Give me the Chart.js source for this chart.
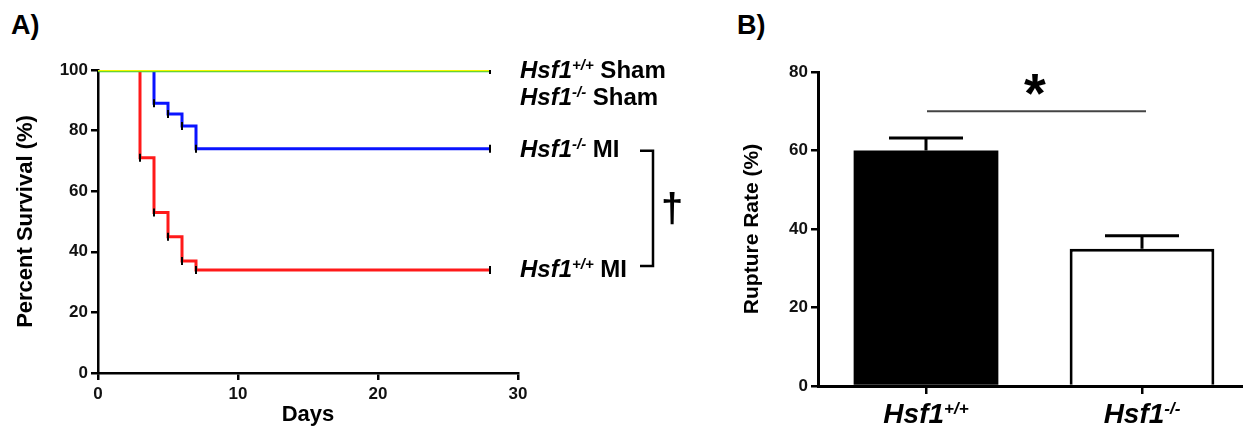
<!DOCTYPE html>
<html>
<head>
<meta charset="utf-8">
<script src="https://cdn.jsdelivr.net/npm/chart.js@4"></script>
<style>
  body { margin: 0; width: 1243px; height: 430px; overflow: hidden; background: #fff; position: relative; font-family: "Liberation Sans", Arial, sans-serif; }
  .panel { position: absolute; top: 0; height: 430px; }
  .tag { position: absolute; font-weight: bold; font-size: 27px; color: #000; }
</style>
</head>
<body>
<div class="tag" style="left:11px;top:10px;">A)</div>
<div class="tag" style="left:737px;top:10px;">B)</div>
<div class="panel" style="left:0;width:700px;"><canvas id="survChart"></canvas></div>
<div class="panel" style="left:700px;width:550px;"><canvas id="ruptureChart"></canvas></div>
<script>
// Panel A - Kaplan-Meier survival (days, percent)
const wtShamDays = [0, 28];
const wtShamSurv = [100, 100];
const koShamDays = [0, 28];
const koShamSurv = [100, 100];
const koMiDays = [0, 4, 5, 6, 7, 28];
const koMiSurv = [100, 89, 85.5, 81.5, 74, 74];
const wtMiDays = [0, 3, 4, 5, 6, 7, 28];
const wtMiSurv = [100, 71, 53, 45, 37, 34, 34];
const dayTicks = [0, 10, 20, 30];
const survTicks = [0, 20, 40, 60, 80, 100];

// Panel B - rupture rate
const groups = ['Hsf1+/+', 'Hsf1-/-'];
const ruptureRate = [60, 35];
const ruptureSem = [3.2, 3.3];
const rateTicks = [0, 20, 40, 60, 80];

const FONT = '"Liberation Sans", Arial, sans-serif';
Chart.defaults.font.family = FONT;
Chart.defaults.color = '#000';

function toXY(xs, ys) {
  return xs.map((x, i) => ({x: x, y: ys[i]}));
}

// draw text made of parts (italic / superscript)
function richFont(p, size) {
  const fs = p.sup ? Math.round(size * 0.62) : size;
  return (p.italic ? 'italic ' : '') + 'bold ' + fs + 'px ' + FONT;
}
function richWidth(ctx, parts, size) {
  let w = 0;
  parts.forEach(p => { ctx.font = richFont(p, size); w += ctx.measureText(p.t).width; });
  return w;
}
function drawRich(ctx, x, y, parts, size) {
  let cx = x;
  ctx.textBaseline = 'alphabetic';
  ctx.textAlign = 'left';
  parts.forEach(p => {
    ctx.font = richFont(p, size);
    ctx.fillText(p.t, cx, y - (p.sup ? size * 0.32 : 0));
    cx += ctx.measureText(p.t).width;
  });
}
function geneParts(label) {
  // 'Hsf1+/+' -> Hsf1 with superscript genotype
  return [{t: label.slice(0, 4), italic: true}, {t: label.slice(4), italic: true, sup: true}];
}

function survLine(label, xs, ys, color, width) {
  return {
    label: label,
    data: toXY(xs, ys),
    borderColor: color,
    borderWidth: width,
    stepped: true,
    pointStyle: 'line',
    rotation: 90,
    pointRadius: c => c.dataIndex === 0 ? 0 : 4,
    pointBorderColor: '#000',
    pointBorderWidth: 2,
    pointBackgroundColor: '#000'
  };
}

const survLabels = {
  id: 'survLabels',
  afterDatasetsDraw(chart) {
    const ctx = chart.ctx;
    const y = chart.scales.y;
    const x0 = 520;
    ctx.save();
    ctx.fillStyle = '#000';
    const ySham = y.getPixelForValue(wtShamSurv[wtShamSurv.length - 1]);
    const yKo = y.getPixelForValue(koMiSurv[koMiSurv.length - 1]);
    const yWt = y.getPixelForValue(wtMiSurv[wtMiSurv.length - 1]);
    drawRich(ctx, x0, ySham + 8, geneParts('Hsf1+/+').concat([{t: ' Sham'}]), 24);
    drawRich(ctx, x0, ySham + 35, geneParts('Hsf1-/-').concat([{t: ' Sham'}]), 24);
    drawRich(ctx, x0, yKo + 8, geneParts('Hsf1-/-').concat([{t: ' MI'}]), 24);
    drawRich(ctx, x0, yWt + 7, geneParts('Hsf1+/+').concat([{t: ' MI'}]), 24);
    // bracket + dagger
    ctx.strokeStyle = '#000';
    ctx.lineWidth = 2.5;
    ctx.beginPath();
    ctx.moveTo(640, yKo + 2);
    ctx.lineTo(653, yKo + 2);
    ctx.lineTo(653, yWt - 4);
    ctx.lineTo(640, yWt - 4);
    ctx.stroke();
    ctx.font = 'bold 40px ' + FONT;
    ctx.textAlign = 'center';
    ctx.textBaseline = 'middle';
    ctx.fillText('\u2020', 672, (yKo + yWt) / 2 + 2);
    ctx.restore();
  }
};

new Chart(document.getElementById('survChart'), {
  type: 'line',
  data: {
    // first dataset is drawn on top
    datasets: [
      survLine('Hsf1+/+ Sham', wtShamDays, wtShamSurv, '#f5f500', 2.5),
      survLine('Hsf1-/- Sham', koShamDays, koShamSurv, '#3cc83c', 4.5),
      survLine('Hsf1+/+ MI', wtMiDays, wtMiSurv, '#ff1a1a', 3),
      survLine('Hsf1-/- MI', koMiDays, koMiSurv, '#0a14ff', 3)
    ]
  },
  options: {
    responsive: true,
    maintainAspectRatio: false,
    animation: false,
    layout: { padding: { left: 0, top: 70, right: 182, bottom: 0 } },
    plugins: { legend: { display: false }, tooltip: { enabled: false } },
    scales: {
      x: {
        type: 'linear',
        min: 0, max: 30,
        afterBuildTicks: s => { s.ticks = dayTicks.map(v => ({value: v})); },
        afterFit: s => { s.height = 57; },
        border: { color: '#000', width: 2.5 },
        grid: { drawOnChartArea: false, drawTicks: true, tickLength: 7, color: '#000', lineWidth: 2.5 },
        ticks: { font: { size: 17, weight: 'bold' }, padding: 4, color: '#111' },
        title: { display: true, text: 'Days', font: { size: 22, weight: 'bold' }, padding: { top: 0, bottom: 2 } }
      },
      y: {
        min: 0, max: 100,
        afterBuildTicks: s => { s.ticks = survTicks.map(v => ({value: v})); },
        afterFit: s => { s.width = 98; },
        border: { color: '#000', width: 2.5 },
        grid: { drawOnChartArea: false, drawTicks: true, tickLength: 7, color: '#000', lineWidth: 2.5 },
        ticks: { font: { size: 17, weight: 'bold' }, padding: 3, color: '#111' },
        title: { display: true, text: 'Percent Survival (%)', font: { size: 22, weight: 'bold' }, padding: { top: 13, bottom: 0 } }
      }
    }
  },
  plugins: [survLabels]
});

const ruptureExtras = {
  id: 'ruptureExtras',
  afterDatasetsDraw(chart) {
    const ctx = chart.ctx;
    const y = chart.scales.y;
    const meta = chart.getDatasetMeta(0);
    ctx.save();
    ctx.strokeStyle = '#000';
    ctx.lineWidth = 3;
    meta.data.forEach((bar, i) => {
      const top = y.getPixelForValue(ruptureRate[i]);
      const cap = y.getPixelForValue(ruptureRate[i] + ruptureSem[i]);
      ctx.beginPath();
      ctx.moveTo(bar.x, top);
      ctx.lineTo(bar.x, cap);
      ctx.moveTo(bar.x - 37, cap);
      ctx.lineTo(bar.x + 37, cap);
      ctx.stroke();
      // category labels
      ctx.fillStyle = '#000';
      const parts = geneParts(groups[i]);
      const w = richWidth(ctx, parts, 28);
      drawRich(ctx, bar.x - w / 2, 423, parts, 28);
    });
    // significance bar
    const sy = y.getPixelForValue(70);
    const b0 = meta.data[0].x, b1 = meta.data[1].x;
    ctx.strokeStyle = '#444';
    ctx.lineWidth = 2;
    ctx.beginPath();
    ctx.moveTo(b0 + 1, sy);
    ctx.lineTo(b1 + 4, sy);
    ctx.stroke();
    ctx.font = 'bold 56px ' + FONT;
    ctx.textAlign = 'center';
    ctx.textBaseline = 'alphabetic';
    ctx.fillText('*', (b0 + b1) / 2 + 1, sy + 1);
    ctx.restore();
  }
};

new Chart(document.getElementById('ruptureChart'), {
  type: 'bar',
  data: {
    labels: groups,
    datasets: [{
      data: ruptureRate,
      backgroundColor: ['#000', '#fff'],
      borderColor: '#000',
      borderWidth: [0, 3],
      borderSkipped: 'start',
      barPercentage: 0.67,
      categoryPercentage: 1
    }]
  },
  options: {
    responsive: true,
    maintainAspectRatio: false,
    animation: false,
    layout: { padding: { left: 0, top: 72, right: 0, bottom: 0 } },
    plugins: { legend: { display: false }, tooltip: { enabled: false } },
    scales: {
      x: {
        afterFit: s => { s.height = 44; },
        border: { color: '#000', width: 3 },
        grid: { offset: false, drawOnChartArea: false, drawTicks: true, tickLength: 8, color: '#000', lineWidth: 2.5 },
        ticks: { callback: () => '', padding: 0 }
      },
      y: {
        min: 0, max: 80,
        afterBuildTicks: s => { s.ticks = rateTicks.map(v => ({value: v})); },
        afterFit: s => { s.width = 118; },
        border: { color: '#000', width: 3 },
        grid: { drawOnChartArea: false, drawTicks: true, tickLength: 7, color: '#000', lineWidth: 2.5 },
        ticks: { font: { size: 17, weight: 'bold' }, padding: 3, color: '#111' },
        title: { display: true, text: 'Rupture Rate (%)', font: { size: 21, weight: 'bold' }, padding: { top: 40, bottom: 0 } }
      }
    }
  },
  plugins: [ruptureExtras]
});
</script>
</body>
</html>
